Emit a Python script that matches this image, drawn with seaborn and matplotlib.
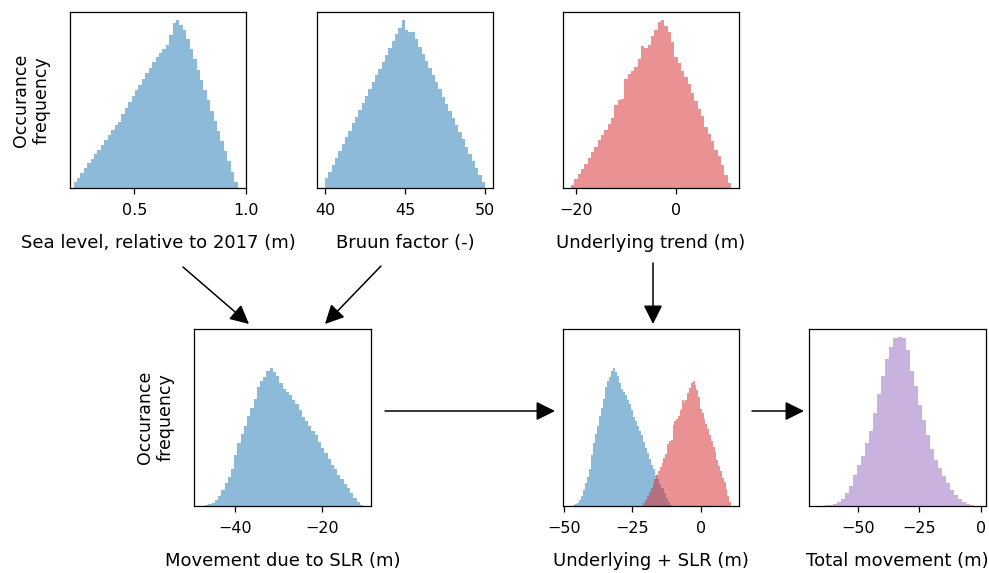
import numpy as np
import pandas as pd
import matplotlib
matplotlib.use("Agg")
import matplotlib.pyplot as plt
import seaborn as sns
from matplotlib.patches import FancyArrowPatch, ArrowStyle

# ---------------- data (histogram bin counts) ----------------
sea_level_range = (0.228, 0.962)
sea_level_counts = [17, 31, 45, 59, 73, 86, 100, 114, 128, 143, 157, 171, 188, 196, 220, 238,
                    256, 272, 290, 307, 324, 341, 358, 375, 388, 400, 413, 425, 455, 490, 498, 485,
                    470, 443, 412, 382, 352, 321, 291, 261, 230, 200, 170, 140, 109, 79, 49, 18]
sea_level_ticks = [0.5, 1.0]

bruun_range = (40.0, 50.0)
bruun_counts = [28, 48, 68, 89, 109, 129, 149, 169, 190, 210, 230, 250, 270, 291, 311, 331,
                351, 371, 392, 412, 432, 453, 470, 493, 465, 460, 458, 437, 416, 395, 374, 353,
                332, 311, 290, 269, 248, 227, 206, 185, 164, 143, 122, 101, 80, 59, 38, 17]
bruun_ticks = [40, 45, 50]

trend_range = (-21.0, 11.06)
trend_counts = [1.5, 3.8, 6.0, 8.3, 10.5, 13.2, 15.8, 18.3, 21.0, 23.3, 25.8, 28.2, 30.8, 36.8,
                38.7, 39.3, 48.0, 50.3, 51.8, 53.3, 57.0, 62.7, 61.8, 63.0, 67.2, 69.8, 73.2, 74.0,
                71.7, 68.7, 64.5, 57.8, 55.2, 51.8, 48.8, 45.8, 42.0, 38.3, 34.8, 31.8, 27.0, 24.0,
                20.7, 16.8, 14.3, 10.2, 5.7, 2.3]
trend_ticks = [-20, 0]

slr_move_range = (-47.5, -10.7)
slr_move_counts = [0.2, 0.6, 1.2, 2.0, 3.6, 6.0, 9.6, 13.7, 17.1, 22.1, 30.2, 37.2, 42.6, 47.2,
                   53.3, 58.3, 63.3, 70.4, 74.0, 76.8, 80.0, 82.0, 79.4, 77.4, 72.8, 69.3, 67.9,
                   65.9, 62.7, 60.3, 56.7, 52.7, 50.3, 47.2, 44.6, 42.2, 38.2, 34.2, 31.2, 28.1,
                   24.5, 21.7, 18.5, 16.1, 13.1, 10.5, 7.6, 5.0, 2.6, 0.8]
slr_move_ticks = [-40, -20]

combined_ticks = [-50, -25, 0]

total_range = (-66.5, -1.2)
total_counts = [0.1, 0.2, 0.4, 0.6, 1.2, 2.4, 4.4, 7.6, 12.0, 18.1, 24.1, 29.7, 37.1, 44.2,
                55.2, 66.3, 77.3, 87.3, 94.4, 99.4, 100.0, 99.4, 92.4, 80.3, 71.3, 59.8, 51.2,
                42.2, 34.1, 27.1, 22.5, 17.7, 13.7, 9.6, 6.4, 4.0, 2.4, 1.2, 0.6, 0.2]
total_ticks = [-50, -25, 0]

labels = ["Sea level, relative to 2017 (m)", "Bruun factor (-)", "Underlying trend (m)",
          "Movement due to SLR (m)", "Underlying + SLR (m)", "Total movement (m)"]
ylabel_text = "Occurance\nfrequency"

BLUE, RED, PURPLE = "tab:blue", "tab:red", "tab:purple"

# ---------------- figure ----------------
W, H = 989, 573
fig = plt.figure(figsize=(W / 100, H / 100), dpi=100)
fig.patch.set_facecolor("white")


def px_axes(left, top, w=176, h=176):
    return fig.add_axes([left / W, 1 - (top + h) / H, w / W, h / H])


def draw(ax, rng, counts, color):
    edges = np.linspace(rng[0], rng[1], len(counts) + 1)
    df = pd.DataFrame({"value": 0.5 * (edges[:-1] + edges[1:]),
                       "count": np.asarray(counts, dtype=float)})
    sns.histplot(data=df, x="value", weights="count", bins=list(edges), element="step",
                 fill=True, color=color, alpha=0.5, linewidth=0, ax=ax)


TICK_FS, XLAB_FS, YLAB_FS = 11.5, 13, 12.5


def style(ax, ticks, xlabel, ylabel=None):
    ax.set_xticks(ticks)
    ax.set_yticks([])
    ax.tick_params(axis="x", labelsize=TICK_FS, length=4, width=0.9, pad=7)
    ax.set_xlabel(xlabel, fontsize=XLAB_FS, labelpad=11)
    ax.set_ylabel(ylabel if ylabel else "", fontsize=YLAB_FS, labelpad=14)
    for s in ax.spines.values():
        s.set_linewidth(0.9)
        s.set_color("black")


ax1 = px_axes(70, 12)
ax2 = px_axes(317, 12)
ax3 = px_axes(563, 12)
ax4 = px_axes(194, 329, 177, 177)
ax5 = px_axes(563, 329, 176, 177)
ax6 = px_axes(809, 329, 177, 177)

draw(ax1, sea_level_range, sea_level_counts, BLUE)
draw(ax2, bruun_range, bruun_counts, BLUE)
draw(ax3, trend_range, trend_counts, RED)
draw(ax4, slr_move_range, slr_move_counts, BLUE)
draw(ax5, slr_move_range, slr_move_counts, BLUE)
draw(ax5, trend_range, trend_counts, RED)
draw(ax6, total_range, total_counts, PURPLE)

ax1.set_xlim(0.212, 1.0)
for ax in (ax1, ax2, ax3):
    ax.set_ylim(bottom=0)
bottom_top = 1.05 * max(total_counts)
for ax in (ax4, ax5, ax6):
    ax.set_ylim(0, bottom_top)

style(ax1, sea_level_ticks, labels[0], ylabel_text)
style(ax2, bruun_ticks, labels[1])
style(ax3, trend_ticks, labels[2])
style(ax4, slr_move_ticks, labels[3], ylabel_text)
style(ax5, combined_ticks, labels[4])
style(ax6, total_ticks, labels[5])

# ---------------- arrows (figure pixel positions) ----------------
astyle = ArrowStyle("-|>", head_length=0.64, head_width=0.32)


def arrow(x0, y0, x1, y1):
    a = FancyArrowPatch((x0 / W, 1 - y0 / H), (x1 / W, 1 - y1 / H),
                        transform=fig.transFigure, arrowstyle=astyle, mutation_scale=18,
                        color="black", lw=1.1, shrinkA=0, shrinkB=0)
    fig.add_artist(a)


arrow(183, 267, 249, 324)
arrow(381, 266, 325, 324)
arrow(653, 263, 653, 324)
arrow(385, 411, 555, 411)
arrow(752, 411, 804, 411)

fig.savefig("out.png", dpi=100, facecolor="white")
